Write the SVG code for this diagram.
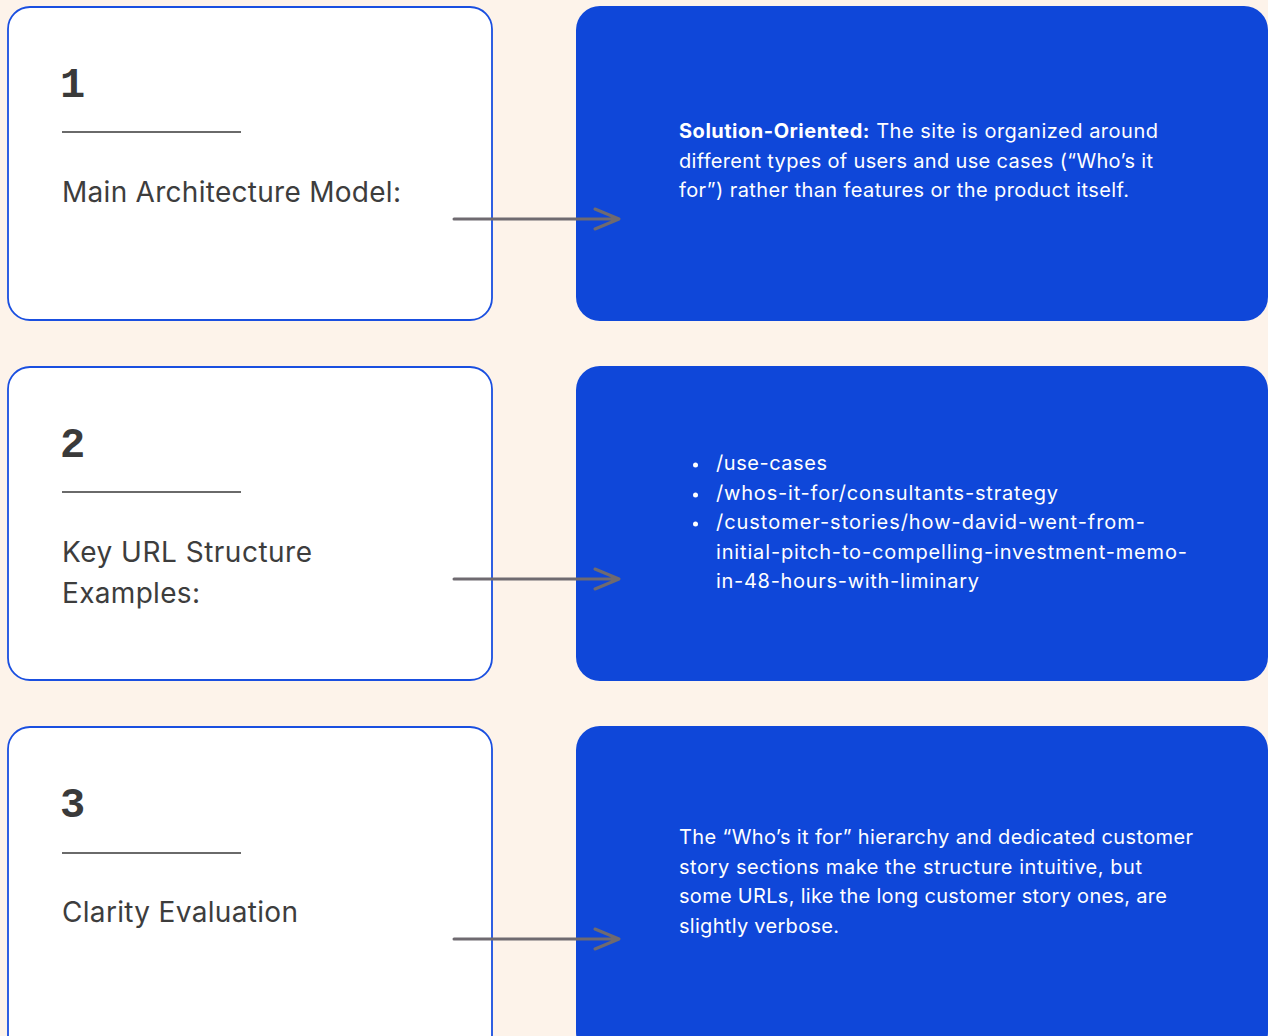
<svg xmlns="http://www.w3.org/2000/svg" width="1268" height="1036" viewBox="0 0 1268 1036">
<style>
.card{fill:#ffffff;stroke:#1a4fe0;stroke-width:1.8}
.panel{fill:#0f47d9}
.num{font-family:"Liberation Mono","DejaVu Sans Mono",monospace;font-weight:bold;font-size:42px;fill:#3a3a3a}
.rule{stroke:#6a6a6a;stroke-width:2}
.label{font-family:Inter,"Liberation Sans",sans-serif;font-size:28px;fill:#3d3d3d}
.body{font-family:Inter,"Liberation Sans",sans-serif;font-size:20px;fill:#ffffff}
.conn{stroke:#6f6a70;stroke-width:3;fill:none;stroke-linecap:round;stroke-linejoin:round}
</style>
<rect width="1268" height="1036" fill="#fdf3ea"/>
<g id="node1">
<rect class="card" x="8" y="7" width="484" height="313" rx="22"/>
<text class="num" x="60" y="97">1</text>
<line class="rule" x1="62" y1="132" x2="241" y2="132"/>
<text class="label" x="62" y="202" textLength="339">Main Architecture Model:</text>
</g>
<g id="detail1">
<rect class="panel" x="576" y="6" width="692" height="315" rx="24"/>
<text class="body" x="679" y="138" textLength="479"><tspan font-weight="bold">Solution-Oriented:</tspan> The site is organized around</text>
<text class="body" x="679" y="168" textLength="474">different types of users and use cases (“Who’s it</text>
<text class="body" x="679" y="197" textLength="450">for”) rather than features or the product itself.</text>
</g>
<g id="node2">
<rect class="card" x="8" y="367" width="484" height="313" rx="22"/>
<text class="num" x="60" y="457">2</text>
<line class="rule" x1="62" y1="492" x2="241" y2="492"/>
<text class="label" x="62" y="562" textLength="250">Key URL Structure</text>
<text class="label" x="62" y="603" textLength="138">Examples:</text>
</g>
<g id="detail2">
<rect class="panel" x="576" y="366" width="692" height="315" rx="24"/>
<g fill="#ffffff">
<circle cx="695.5" cy="465" r="2.5"/>
<circle cx="695.5" cy="495" r="2.5"/>
<circle cx="695.5" cy="524" r="2.5"/>
</g>
<text class="body" x="716" y="470" textLength="111">/use-cases</text>
<text class="body" x="716" y="500" textLength="342">/whos-it-for/consultants-strategy</text>
<text class="body" x="716" y="529" textLength="429">/customer-stories/how-david-went-from-</text>
<text class="body" x="716" y="559" textLength="471">initial-pitch-to-compelling-investment-memo-</text>
<text class="body" x="716" y="588" textLength="263">in-48-hours-with-liminary</text>
</g>
<g id="node3">
<rect class="card" x="8" y="727" width="484" height="330" rx="22"/>
<text class="num" x="60" y="817">3</text>
<line class="rule" x1="62" y1="853" x2="241" y2="853"/>
<text class="label" x="62" y="922" textLength="236">Clarity Evaluation</text>
</g>
<g id="detail3">
<rect class="panel" x="576" y="726" width="692" height="330" rx="24"/>
<text class="body" x="679" y="844" textLength="514">The “Who’s it for” hierarchy and dedicated customer</text>
<text class="body" x="679" y="874" textLength="463">story sections make the structure intuitive, but</text>
<text class="body" x="679" y="903" textLength="488">some URLs, like the long customer story ones, are</text>
<text class="body" x="679" y="933" textLength="160">slightly verbose.</text>
</g>
<g id="connectors">
<path class="conn" d="M454 219H618M595 209L619 219L595 229"/>
<path class="conn" d="M454 579H618M595 569L619 579L595 589"/>
<path class="conn" d="M454 939H618M595 929L619 939L595 949"/>
</g>
</svg>
